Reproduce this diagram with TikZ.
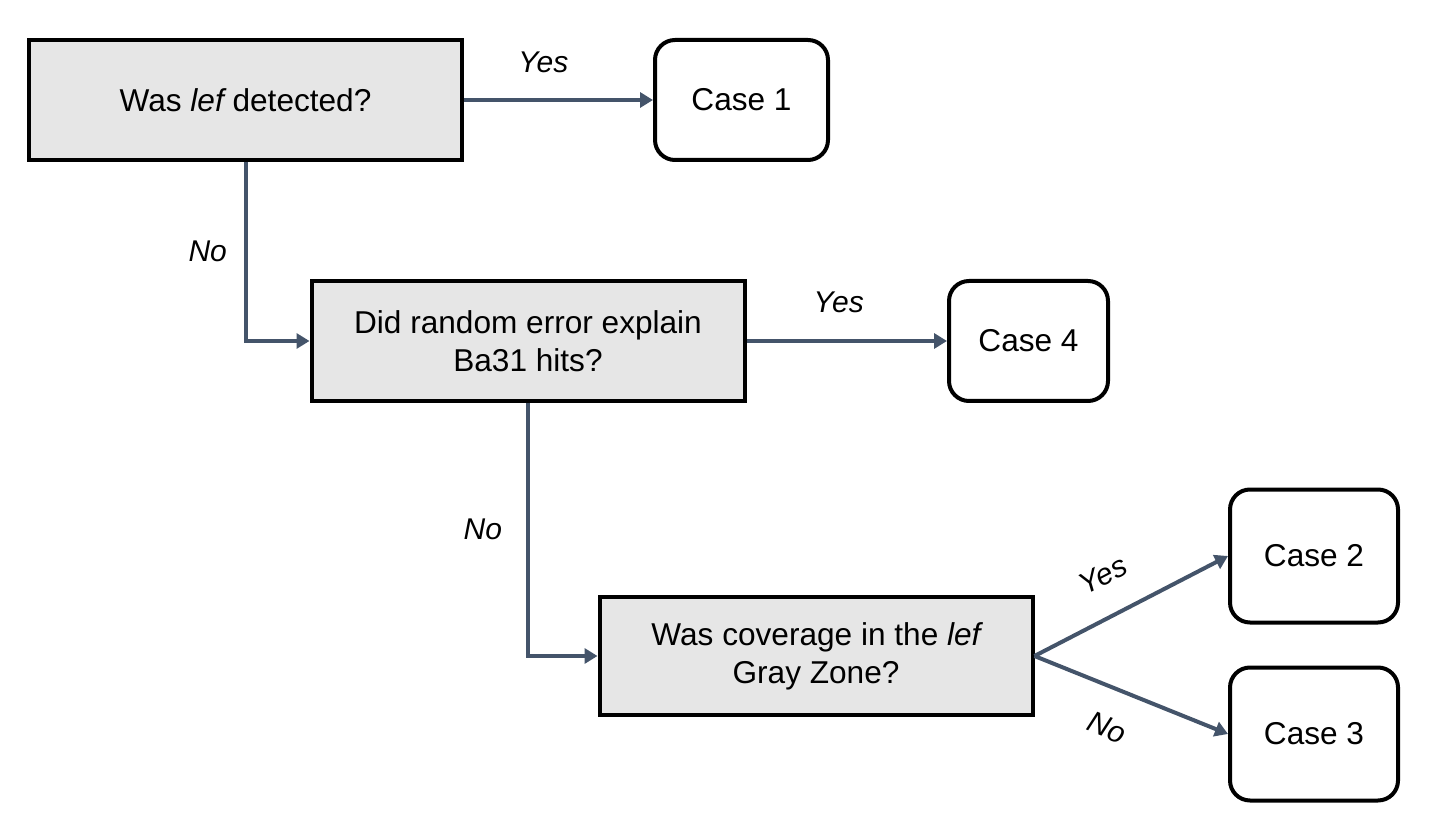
\documentclass[tikz,border=0pt]{standalone}
\usepackage{fontspec}
\setmainfont{Liberation Sans}
\usetikzlibrary{arrows.meta}

\definecolor{linkblue}{HTML}{44546A}
\definecolor{boxgray}{HTML}{E6E6E6}

\begin{document}
\begin{tikzpicture}[node distance=60pt, every node/.style={align=center, font=\fontsize{15.8pt}{19pt}\selectfont}, >={Triangle[length=6.5pt,width=7.5pt]}]
    % styles
    \tikzstyle{question} = [rectangle, draw=black, line width=2pt, fill=boxgray, minimum width=216.5pt, minimum height=60pt]
    \tikzstyle{outcome} = [rectangle, rounded corners=10pt, draw=black, line width=2pt, fill=white, minimum width=84pt, minimum height=60pt]
    \tikzstyle{arrow} = [draw=linkblue, line width=2pt, ->]
    \tikzstyle{answer} = [font=\fontsize{15pt}{18pt}\selectfont\itshape, inner sep=2pt]

    \useasboundingbox (0,0) rectangle (720pt,-414pt);

    % nodes
    \node[question] (q1) at (122.75pt,-50pt) {Was {\itshape lef} detected?};
    \node[outcome, right of=q1, xshift=188pt, minimum width=86.5pt] (case1) {Case 1};

    \node[question, below of=q1, xshift=141.25pt, yshift=-60.5pt] (q2) {Did random error explain\\Ba31 hits?};
    \node[outcome, right of=q2, xshift=190.25pt, minimum width=79.5pt] (case4) {Case 4};

    \node[question, below of=q2, xshift=144pt, yshift=-97.5pt, minimum height=59pt] (q3) {Was coverage in the {\itshape lef}\\Gray Zone?};
    \node[outcome, right of=q3, xshift=189pt, yshift=50pt, minimum height=66.5pt] (case2) {Case 2};
    \node[outcome, below of=case2, yshift=-29pt, minimum height=66.5pt] (case3) {Case 3};

    % connectors
    \draw[arrow] (q1) -- node[answer, above=10.5pt, pos=0.42] {Yes} (case1);
    \draw[arrow] (q1) |- node[answer, left=6.3pt, pos=0.25] {No} (q2);

    \draw[arrow] (q2) -- node[answer, above=11pt, pos=0.46] {Yes} (case4);
    \draw[arrow] (q2) |- node[answer, left=10pt, pos=0.25] {No} (q3);

    \draw[arrow] (q3.east) -- node[answer, sloped, above=12pt, pos=0.45] {Yes} (case2.west);
    \draw[arrow] (q3.east) -- node[answer, sloped, below=11.5pt, pos=0.45] {No} (case3.west);
\end{tikzpicture}
\end{document}
